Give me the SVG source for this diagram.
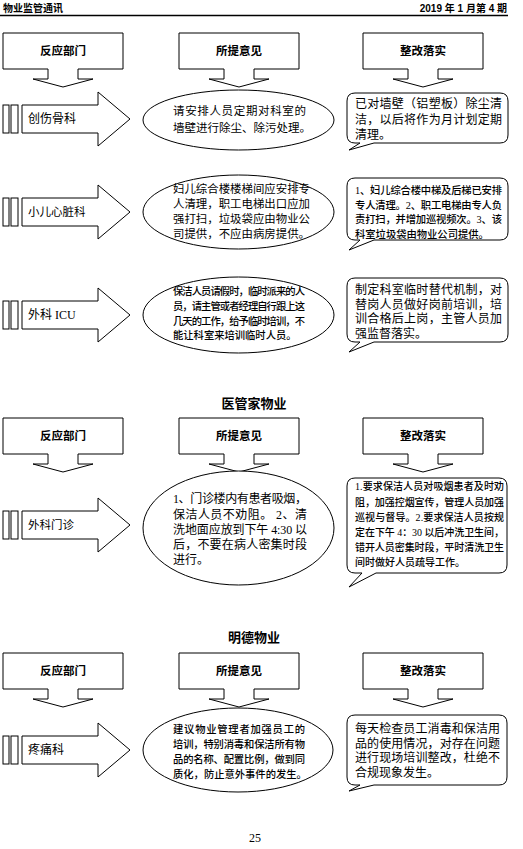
<svg xmlns="http://www.w3.org/2000/svg" width="523" height="849" viewBox="0 0 523 849">
<style>
.s{fill:#fff;stroke:#000;stroke-width:1}
.h{font-family:"Liberation Sans","Noto Sans CJK SC",sans-serif;font-weight:bold;fill:#000}
.t{font-family:"Liberation Serif","Noto Sans CJK SC",serif;fill:#000}
.b{font-weight:500}
</style>
<defs>
<path id="hbox" d="M0,0 H120 V36 H75 V46 H90 L60,54 L30,46 H45 V36 H0 Z"/>
<g id="barrow">
<rect x="3" y="-14" width="6" height="28"/>
<rect x="11" y="-14" width="7" height="28"/>
<path d="M22,-14 H98 V-27 L130,0 L98,27 V14 H22 Z"/>
</g>
</defs>
<rect width="523" height="849" fill="#fff"/>

<g id="page-header">
<text class="h" x="3" y="12" font-size="10">物业监管通讯</text>
<text class="h" x="507" y="12" font-size="10" text-anchor="end">2019 年 1 月第 4 期</text>
<line x1="0" y1="15.5" x2="508" y2="15.5" stroke="#000" stroke-width="1.3"/>
</g>

<g id="connectors"></g>

<!-- Section 1 headers -->
<g id="s1-dept"><use href="#hbox" class="s" x="3" y="33"/><text class="h" x="63" y="55" font-size="11.5" text-anchor="middle">反应部门</text></g>
<g id="s1-opinion"><use href="#hbox" class="s" x="179" y="33"/><text class="h" x="239" y="55" font-size="11.5" text-anchor="middle">所提意见</text></g>
<g id="s1-fix"><use href="#hbox" class="s" x="363" y="33"/><text class="h" x="423" y="55" font-size="11.5" text-anchor="middle">整改落实</text></g>

<!-- Row 1 -->
<g id="r1-dept"><use href="#barrow" class="s" y="119"/><text class="t" x="28" y="123" font-size="12">创伤骨科</text></g>
<g id="r1-opinion"><ellipse class="s" cx="238.5" cy="120" rx="95.5" ry="30"/>
<text class="t" font-size="11.5"><tspan x="173" y="115" textLength="133">请安排人员定期对科室的</tspan><tspan x="173" y="132">墙壁进行除尘、除污处理。</tspan></text></g>
<g id="r1-fix"><path class="s" d="M355,93 H500 Q508,93 508,101 V135 Q508,143 500,143 H374 L349,150 L360,143 H355 Q347,143 347,135 V101 Q347,93 355,93 Z"/>
<text class="t" font-size="12"><tspan x="355" y="108" textLength="147">已对墙壁（铝塑板）除尘清</tspan><tspan x="355" y="123.5" textLength="147">洁，以后将作为月计划定期</tspan><tspan x="355" y="139">清理。</tspan></text></g>

<!-- Row 2 -->
<g id="r2-dept"><use href="#barrow" class="s" y="212"/><text class="t" x="28" y="216" font-size="11.5">小儿心脏科</text></g>
<g id="r2-opinion"><ellipse class="s" cx="238.5" cy="212" rx="95.5" ry="37"/>
<text class="t" font-size="11.4"><tspan x="173" y="193" textLength="137">妇儿综合楼楼梯间应安排专</tspan><tspan x="173" y="208" textLength="137">人清理，职工电梯出口应加</tspan><tspan x="173" y="223" textLength="137">强打扫，垃圾袋应由物业公</tspan><tspan x="173" y="238" textLength="137">司提供，不应由病房提供。</tspan></text></g>
<g id="r2-fix"><path class="s" d="M355,178 H500 Q508,178 508,186 V232 Q508,240 500,240 H374 L349,250 L360,240 H355 Q347,240 347,232 V186 Q347,178 355,178 Z"/>
<text class="t b" font-size="10.3"><tspan x="355" y="194" textLength="147">1、妇儿综合楼中梯及后梯已安排</tspan><tspan x="355" y="208.5" textLength="147">专人清理。2、职工电梯由专人负</tspan><tspan x="355" y="223" textLength="147">责打扫，并增加巡视频次。3、该</tspan><tspan x="355" y="237.5">科室垃圾袋由物业公司提供。</tspan></text></g>

<!-- Row 3 -->
<g id="r3-dept"><use href="#barrow" class="s" y="315"/><text class="t" x="28" y="319" font-size="12">外科 ICU</text></g>
<g id="r3-opinion"><ellipse class="s" cx="238.5" cy="315" rx="95.5" ry="38"/>
<text class="t b" font-size="10.3"><tspan x="173" y="295" textLength="132">保洁人员请假时，临时派来的人</tspan><tspan x="173" y="310" textLength="132">员，请主管或者经理自行跟上这</tspan><tspan x="173" y="324.5" textLength="132">几天的工作，给予临时培训，不</tspan><tspan x="173" y="339">能让科室来培训临时人员。</tspan></text></g>
<g id="r3-fix"><path class="s" d="M355,278 H500 Q508,278 508,286 V334 Q508,342 500,342 H374 L349,352 L360,342 H355 Q347,342 347,334 V286 Q347,278 355,278 Z"/>
<text class="t" font-size="12"><tspan x="355" y="294" textLength="147">制定科室临时替代机制，对</tspan><tspan x="355" y="308.5" textLength="147">替岗人员做好岗前培训，培</tspan><tspan x="355" y="323" textLength="147">训合格后上岗，主管人员加</tspan><tspan x="355" y="338">强监督落实。</tspan></text></g>

<!-- Section 2 -->
<g id="s2-title"><text class="h" x="254" y="408" font-size="13" text-anchor="middle">医管家物业</text></g>
<g id="s2-dept"><use href="#hbox" class="s" x="3" y="418"/><text class="h" x="63" y="440" font-size="11.5" text-anchor="middle">反应部门</text></g>
<g id="s2-opinion"><use href="#hbox" class="s" x="179" y="418"/><text class="h" x="239" y="440" font-size="11.5" text-anchor="middle">所提意见</text></g>
<g id="s2-fix"><use href="#hbox" class="s" x="363" y="418"/><text class="h" x="423" y="440" font-size="11.5" text-anchor="middle">整改落实</text></g>

<!-- Row 4 -->
<g id="r4-dept"><use href="#barrow" class="s" y="525"/><text class="t" x="28" y="529" font-size="11.5">外科门诊</text></g>
<g id="r4-opinion"><ellipse class="s" cx="238.5" cy="528" rx="95.5" ry="57"/>
<text class="t" font-size="12"><tspan x="173" y="503" textLength="134">1、门诊楼内有患者吸烟，</tspan><tspan x="173" y="518.5" textLength="134">保洁人员不劝阻。 2、清</tspan><tspan x="173" y="534" textLength="134">洗地面应放到下午 4:30 以</tspan><tspan x="173" y="549" textLength="134">后，不要在病人密集时段</tspan><tspan x="173" y="564">进行。</tspan></text></g>
<g id="r4-fix"><path class="s" d="M355,478 H499 Q507,478 507,486 V565 Q507,573 499,573 H376 L349,587 L362,573 H355 Q347,573 347,565 V486 Q347,478 355,478 Z"/>
<text class="t b" font-size="10"><tspan x="355" y="490" textLength="149">1.要求保洁人员对吸烟患者及时劝</tspan><tspan x="355" y="506" textLength="149">阻，加强控烟宣传，管理人员加强</tspan><tspan x="355" y="521" textLength="149">巡视与督导。2.要求保洁人员按规</tspan><tspan x="355" y="536" textLength="149">定在下午 4：30 以后冲洗卫生间，</tspan><tspan x="355" y="551" textLength="149">错开人员密集时段，平时清洗卫生</tspan><tspan x="355" y="566">间时做好人员疏导工作。</tspan></text></g>

<!-- Section 3 -->
<g id="s3-title"><text class="h" x="254" y="642" font-size="13" text-anchor="middle">明德物业</text></g>
<g id="s3-dept"><use href="#hbox" class="s" x="3" y="653"/><text class="h" x="63" y="675" font-size="11.5" text-anchor="middle">反应部门</text></g>
<g id="s3-opinion"><use href="#hbox" class="s" x="179" y="653"/><text class="h" x="239" y="675" font-size="11.5" text-anchor="middle">所提意见</text></g>
<g id="s3-fix"><use href="#hbox" class="s" x="363" y="653"/><text class="h" x="423" y="675" font-size="11.5" text-anchor="middle">整改落实</text></g>

<!-- Row 5 -->
<g id="r5-dept"><use href="#barrow" class="s" y="750"/><text class="t" x="28" y="754" font-size="12">疼痛科</text></g>
<g id="r5-opinion"><ellipse class="s" cx="238" cy="750" rx="95" ry="42"/>
<text class="t b" font-size="10.3"><tspan x="173" y="733" textLength="132">建议物业管理者加强员工的</tspan><tspan x="173" y="748" textLength="132">培训，特别消毒和保洁所有物</tspan><tspan x="173" y="763" textLength="132">品的名称、配置比例，做到同</tspan><tspan x="173" y="778">质化，防止意外事件的发生。</tspan></text></g>
<g id="r5-fix"><path class="s" d="M355,715 H499 Q507,715 507,723 V777 Q507,785 499,785 H374 L349,791 L360,785 H355 Q347,785 347,777 V723 Q347,715 355,715 Z"/>
<text class="t" font-size="12"><tspan x="355" y="733" textLength="145">每天检查员工消毒和保洁用</tspan><tspan x="355" y="747.5" textLength="145">品的使用情况，对存在问题</tspan><tspan x="355" y="762" textLength="145">进行现场培训整改，杜绝不</tspan><tspan x="355" y="776.5">合规现象发生。</tspan></text></g>

<g id="page-number"><text class="t" x="255" y="842" font-size="12" text-anchor="middle">25</text></g>
</svg>
